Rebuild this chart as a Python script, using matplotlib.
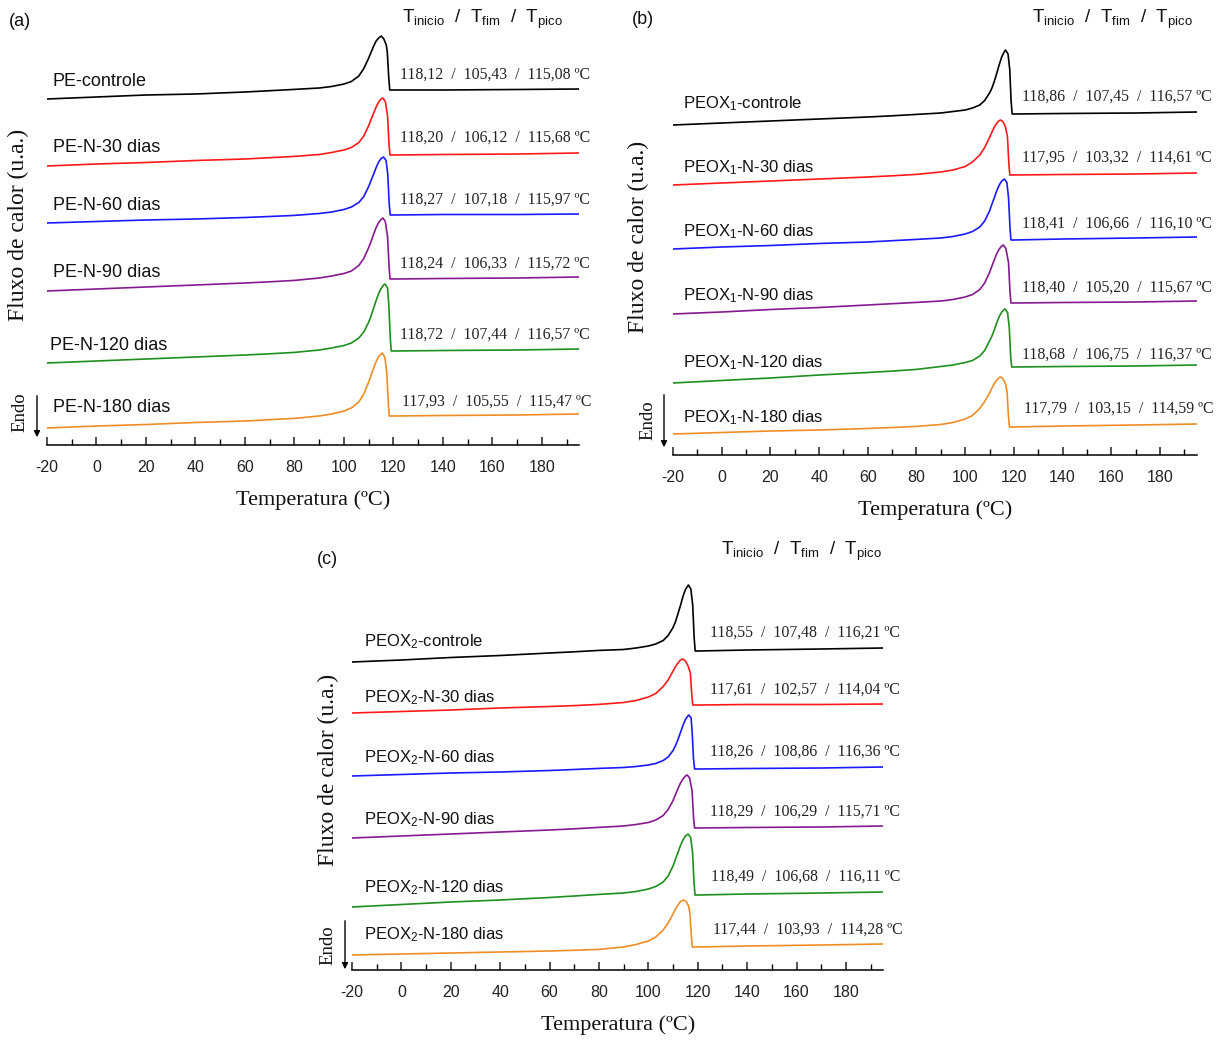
import matplotlib
matplotlib.use("Agg")
import matplotlib.pyplot as plt
from matplotlib.ticker import MultipleLocator

W, H = 1226, 1041
SANS = "Liberation Sans"
SERIF = "Liberation Serif"
plt.rcParams["font.family"] = [SANS, "DejaVu Sans"]
plt.rcParams["mathtext.fontset"] = "custom"
plt.rcParams["mathtext.rm"] = SANS
plt.rcParams["mathtext.it"] = SANS + ":italic"

COLORS = ["#000000", "#ff1a1a", "#1a1aff", "#86198f", "#1f8f1f", "#f08c28"]
DAYS = ["controle", "N-30 dias", "N-60 dias", "N-90 dias", "N-120 dias", "N-180 dias"]

# ---------------- (a) PE ----------------
pe_t_inicio = [118.12, 118.20, 118.27, 118.24, 118.72, 117.93]
pe_t_fim = [105.43, 106.12, 107.18, 106.33, 107.44, 105.55]
pe_t_pico = [115.08, 115.68, 115.97, 115.72, 116.57, 115.47]

T_pe_ctrl = [-20, 0, 20, 40, 60, 70, 80, 90, 95, 100, 103, 106, 108, 110, 111, 112, 113, 114, 115.08, 116.1, 117.1, 117.5, 118.12, 118.5, 120, 140, 170, 195]
Q_pe_ctrl = [346, 348, 350, 351, 353, 354.3, 355.6, 357, 358.5, 361, 363.5, 369, 376.5, 387, 393, 399, 404, 407, 409, 406, 400, 393, 366, 355, 355, 355, 355.5, 356]
T_pe_30 = [-20, 0, 20, 40, 60, 70, 80, 90, 95, 100, 103, 106, 108, 110, 111, 112, 113, 114, 115, 115.68, 116.7, 117.6, 118.2, 118.6, 120, 140, 170, 195]
Q_pe_30 = [279, 281, 282.5, 284.5, 286, 287.3, 288.6, 290.5, 292.5, 295, 297.5, 302.5, 309, 319.5, 326, 332, 338, 343, 346, 347, 343.5, 329.5, 300.5, 290, 290, 290.5, 291, 292]
T_pe_60 = [-20, 0, 20, 40, 60, 70, 80, 90, 95, 100, 103, 106, 108, 110, 111, 112, 113, 114, 115, 115.97, 117, 117.7, 118.27, 118.7, 120, 140, 170, 195]
Q_pe_60 = [222, 223.5, 225, 226, 227.5, 228.5, 229.6, 231.5, 233, 235.5, 238, 242.5, 248.5, 258.5, 265, 271, 277.5, 283, 286.5, 288, 284.5, 270.5, 241, 230, 230, 230.5, 230.5, 231]
T_pe_90 = [-20, 0, 20, 40, 60, 70, 80, 90, 95, 100, 103, 106, 108, 110, 111, 112, 113, 114, 115, 115.72, 116.7, 117.6, 118.24, 118.6, 120, 140, 170, 195]
Q_pe_90 = [154, 156, 158, 160, 162, 163.2, 164.6, 167, 169, 171.5, 174, 179.5, 186.5, 197.5, 204, 211, 217.5, 222.5, 225.5, 227, 223.5, 208.5, 177.5, 166, 166, 166.5, 167, 168]
T_pe_120 = [-20, 0, 20, 40, 60, 70, 80, 90, 95, 100, 103, 106, 108, 110, 111, 112, 113, 114, 115, 116, 116.57, 117.6, 118.1, 118.72, 119.1, 120, 140, 170, 195]
Q_pe_120 = [82, 84, 86, 88, 90, 91.2, 92.6, 95, 97, 99.5, 102, 107, 113, 123, 129.5, 137, 144.5, 151.5, 156.5, 160, 161, 157, 140.5, 106.5, 94, 94, 94.5, 95, 96]
T_pe_180 = [-20, 0, 20, 40, 60, 70, 80, 90, 95, 100, 103, 106, 108, 110, 111, 112, 113, 114, 115, 115.47, 116.5, 117.3, 117.93, 118.3, 120, 140, 170, 195]
Q_pe_180 = [17, 19, 20.5, 22.5, 24, 25.3, 26.6, 29, 31, 34, 37, 43, 51, 63, 70, 77, 83.5, 88.5, 91, 92, 88, 72.5, 40.5, 29, 29, 29.5, 30, 31]

# ---------------- (b) PEOX1 ----------------
ox1_t_inicio = [118.86, 117.95, 118.41, 118.40, 118.68, 117.79]
ox1_t_fim = [107.45, 103.32, 106.66, 105.20, 106.75, 103.15]
ox1_t_pico = [116.57, 114.61, 116.10, 115.67, 116.37, 114.59]

T_ox1_ctrl = [-20, 0, 20, 40, 60, 70, 80, 90, 95, 100, 103, 106, 108, 110, 111, 112, 113, 114, 115, 116, 116.57, 117.6, 118.3, 118.86, 119.3, 120, 140, 170, 195]
Q_ox1_ctrl = [330, 332, 334, 336, 338, 339.2, 340.6, 342, 343.5, 345, 347, 350, 354.5, 362, 367, 374, 382, 390.5, 398, 403, 405, 401, 385.5, 353.5, 341, 341, 341.5, 342, 343]
T_ox1_30 = [-20, 0, 20, 40, 60, 70, 80, 90, 95, 100, 103, 106, 108, 110, 111, 112, 113, 114, 114.61, 115.6, 116.6, 117.35, 117.95, 118.35, 120, 140, 170, 195]
Q_ox1_30 = [270, 272, 274, 276, 278, 279.2, 280.6, 283, 285, 288.5, 293, 300, 307.5, 317.5, 323, 328, 332, 334.5, 335, 333, 327.5, 318.5, 291, 280, 280, 280.5, 281, 282]
T_ox1_60 = [-20, 0, 20, 40, 60, 70, 80, 90, 95, 100, 103, 106, 108, 110, 111, 112, 113, 114, 115, 116.1, 117.1, 117.8, 118.41, 118.8, 120, 140, 170, 195]
Q_ox1_60 = [206, 208, 209.5, 211.5, 213, 214.3, 215.6, 217, 218.5, 221, 223.5, 228, 234, 244, 251, 257.5, 264.5, 270, 274, 276, 272.5, 257.5, 227, 215, 215, 216, 217, 218]
T_ox1_90 = [-20, 0, 20, 40, 60, 70, 80, 90, 95, 100, 103, 106, 108, 110, 111, 112, 113, 114, 115, 115.67, 116.7, 117.8, 118.4, 118.8, 120, 140, 170, 195]
Q_ox1_90 = [141, 143, 145.5, 147.5, 150, 151.3, 152.6, 154, 155.5, 158, 160.5, 165.5, 172, 182.5, 189, 195.5, 201.5, 206, 209, 210, 206.5, 192.5, 163.5, 152, 152, 152.5, 153, 154]
T_ox1_120 = [-20, 0, 20, 40, 60, 70, 80, 90, 95, 100, 103, 106, 108, 110, 111, 112, 113, 114, 115, 116, 116.37, 117.4, 118.1, 118.68, 119.1, 120, 140, 170, 195]
Q_ox1_120 = [72, 74.5, 77, 80, 82.5, 83.9, 85.6, 88.5, 90, 92.5, 94.5, 99, 104.5, 114, 119, 125.5, 132.5, 138.5, 143, 145.5, 146, 142.5, 128, 98.5, 88, 88, 88.5, 89, 90]
T_ox1_180 = [-20, 0, 20, 40, 60, 70, 80, 90, 95, 100, 103, 106, 108, 110, 111, 112, 113, 114, 114.59, 115.6, 116.6, 117.2, 117.79, 118.2, 120, 140, 170, 195]
Q_ox1_180 = [21, 22.5, 24, 25, 26.5, 27.5, 28.6, 30.5, 32.5, 36, 39.5, 46.5, 53.5, 62, 67, 71.5, 75, 77.5, 78, 76, 71, 63, 38, 28, 28, 29, 30, 31]

# ---------------- (c) PEOX2 ----------------
ox2_t_inicio = [118.55, 117.61, 118.26, 118.29, 118.49, 117.44]
ox2_t_fim = [107.48, 102.57, 108.86, 106.29, 106.68, 103.93]
ox2_t_pico = [116.21, 114.04, 116.36, 115.71, 116.11, 114.28]

T_ox2_ctrl = [-20, 0, 20, 40, 60, 70, 80, 90, 95, 100, 103, 106, 108, 110, 111, 112, 113, 114, 115, 116.21, 117.2, 117.95, 118.55, 118.95, 120, 140, 170, 195]
Q_ox2_ctrl = [308, 310, 312.5, 314.5, 317, 318.2, 319.6, 320.5, 322, 324, 326, 329.5, 334.5, 342.5, 348.5, 356.5, 364.5, 373.5, 380.5, 385, 381, 365, 332, 319, 319, 320, 321, 322]
T_ox2_30 = [-20, 0, 20, 40, 60, 70, 80, 90, 95, 100, 103, 106, 108, 110, 111, 112, 113, 114.04, 115, 116, 117, 117.61, 118, 120, 140, 170, 195]
Q_ox2_30 = [257, 258.5, 260, 262, 263.5, 264.4, 265.6, 267.5, 269.5, 273, 276.5, 283.5, 290, 299, 303.5, 307, 310, 311, 309, 304.5, 297, 274, 265, 265, 265.5, 265.5, 266]
T_ox2_60 = [-20, 0, 20, 40, 60, 70, 80, 90, 95, 100, 103, 106, 108, 110, 111, 112, 113, 114, 115, 116, 116.36, 117.3, 117.7, 118.26, 118.7, 120, 140, 170, 195]
Q_ox2_60 = [194, 195.5, 197, 198, 199.5, 200.5, 201.6, 202.5, 203.5, 205, 206.5, 209.5, 213, 219.5, 224.5, 230.5, 237.5, 244.5, 250.5, 254, 255, 252, 239, 212, 201, 201, 201.5, 202, 203]
T_ox2_90 = [-20, 0, 20, 40, 60, 70, 80, 90, 95, 100, 103, 106, 108, 110, 111, 112, 113, 114, 115, 115.71, 116.7, 117.7, 118.29, 118.7, 120, 140, 170, 195]
Q_ox2_90 = [132, 134, 136, 138, 140, 141.2, 142.6, 144, 145.5, 147.5, 150, 154.5, 160.5, 169.5, 175.5, 181.5, 187, 191, 194, 195, 192, 179, 152.5, 142, 142, 142.5, 143, 144]
T_ox2_120 = [-20, 0, 20, 40, 60, 70, 80, 90, 95, 100, 103, 106, 108, 110, 111, 112, 113, 114, 115, 116.11, 117.1, 117.9, 118.49, 118.9, 120, 140, 170, 195]
Q_ox2_120 = [63, 65.5, 68, 70, 72.5, 74, 75.6, 77, 78.5, 81, 83.5, 88, 94, 104, 111, 117.5, 124.5, 130, 134, 136, 132.5, 117.5, 87, 75, 75, 76, 77, 78]
T_ox2_180 = [-20, 0, 20, 40, 60, 70, 80, 90, 95, 100, 103, 106, 108, 110, 111, 112, 113, 114.28, 115.3, 116.3, 116.84, 117.44, 117.84, 120, 140, 170, 195]
Q_ox2_180 = [15, 16, 17, 18, 19, 19.7, 20.6, 23, 25.5, 29, 33, 40, 47, 56, 61, 65, 68.5, 70, 68.5, 64, 56.5, 32.5, 23, 23, 24, 25, 26]

X_TICKS = [-20, 0, 20, 40, 60, 80, 100, 120, 140, 160, 180]


def fx(px):
    return px / W


def fy(py):
    return 1 - py / H


def fmt(v):
    return f"{v:.2f}".replace(".", ",")


fig = plt.figure(figsize=(W / 100, H / 100), dpi=100)
fig.patch.set_facecolor("white")


def draw_panel(box, letter, letter_xy, header_xy, prefix, name_size, temps, flows,
               t_ini, t_fim, t_pic, name_xy, value_xy, ylab_xy, endo_xy,
               arrow, xlab_xy):
    left, right, axis_y, top = box
    ax = fig.add_axes([fx(left), fy(axis_y), fx(right - left), (axis_y - top) / H])
    ax.set_xlim(-20, 195)
    ax.set_ylim(0, axis_y - top)
    for s in ("left", "right", "top"):
        ax.spines[s].set_visible(False)
    ax.spines["bottom"].set_linewidth(1.1)
    ax.yaxis.set_visible(False)
    ax.set_xticks(X_TICKS)
    ax.set_xticklabels([str(t) for t in X_TICKS])
    ax.xaxis.set_minor_locator(MultipleLocator(10))
    ax.tick_params(axis="x", which="major", direction="in", length=6, width=1.1,
                   pad=11, labelsize=11.5, colors="#222222")
    ax.tick_params(axis="x", which="minor", direction="in", length=4, width=1.0)
    ax.patch.set_alpha(0)

    for i, (t, q) in enumerate(zip(temps, flows)):
        ax.plot(t, q, color=COLORS[i], lw=1.2, solid_joinstyle="round")
        fig.text(fx(name_xy[i][0]), fy(name_xy[i][1]), prefix + DAYS[i],
                 ha="left", va="center", fontsize=name_size, color="#111111")
        txt = f"{fmt(t_ini[i])}  /  {fmt(t_fim[i])}  /  {fmt(t_pic[i])} ºC"
        fig.text(fx(value_xy[i][0]), fy(value_xy[i][1]), txt, ha="left", va="center",
                 fontsize=11.4, family=SERIF, color="#222222")

    fig.text(fx(letter_xy[0]), fy(letter_xy[1]), letter, ha="center", va="center",
             fontsize=13, color="#111111")
    fig.text(fx(header_xy[0]), fy(header_xy[1]),
             r"$\mathregular{T_{inicio}}$  /  $\mathregular{T_{fim}}$  /  $\mathregular{T_{pico}}$",
             ha="center", va="center", fontsize=13.5, color="#111111")
    fig.text(fx(ylab_xy[0]), fy(ylab_xy[1]), "Fluxo de calor (u.a.)", rotation=90,
             ha="center", va="center", fontsize=17, family=SERIF, color="#111111")
    fig.text(fx(endo_xy[0]), fy(endo_xy[1]), "Endo", rotation=90,
             ha="center", va="center", fontsize=13.5, family=SERIF, color="#111111")
    fig.text(fx(xlab_xy[0]), fy(xlab_xy[1]), "Temperatura (ºC)",
             ha="center", va="center", fontsize=16, family=SERIF, color="#111111")
    ax_x, y0, y1 = arrow
    fig.add_artist(matplotlib.patches.FancyArrowPatch(
        (fx(ax_x), fy(y0)), (fx(ax_x), fy(y1)), transform=fig.transFigure,
        arrowstyle="-|>", mutation_scale=9, lw=1.0, color="black"))
    return ax


draw_panel(
    (47, 579.1, 445, 20), "(a)", (20, 22), (482, 19), "PE-", 13,
    [T_pe_ctrl, T_pe_30, T_pe_60, T_pe_90, T_pe_120, T_pe_180],
    [Q_pe_ctrl, Q_pe_30, Q_pe_60, Q_pe_90, Q_pe_120, Q_pe_180],
    pe_t_inicio, pe_t_fim, pe_t_pico,
    [(53, 81), (53, 148), (53, 205), (53, 273), (50, 346), (53, 407)],
    [(400, 75), (400, 138), (400, 200), (400, 264), (400, 335), (402, 402)],
    (18, 225), (20, 412), (37, 393, 440), (313, 500))

draw_panel(
    (673, 1196.5, 455, 20), "(b)", (643, 20), (1112, 19), r"PEOX$\mathregular{_1}$-", 12,
    [T_ox1_ctrl, T_ox1_30, T_ox1_60, T_ox1_90, T_ox1_120, T_ox1_180],
    [Q_ox1_ctrl, Q_ox1_30, Q_ox1_60, Q_ox1_90, Q_ox1_120, Q_ox1_180],
    ox1_t_inicio, ox1_t_fim, ox1_t_pico,
    [(683, 104), (683, 168), (683, 232), (683, 296), (683, 363), (683, 418)],
    [(1022, 97), (1022, 158), (1022, 224), (1022, 288), (1022, 355), (1024, 409)],
    (638, 237), (648, 420), (664, 392, 450), (935, 510))

draw_panel(
    (352, 883, 970, 560), "(c)", (327, 560), (801, 551), r"PEOX$\mathregular{_2}$-", 12,
    [T_ox2_ctrl, T_ox2_30, T_ox2_60, T_ox2_90, T_ox2_120, T_ox2_180],
    [Q_ox2_ctrl, Q_ox2_30, Q_ox2_60, Q_ox2_90, Q_ox2_120, Q_ox2_180],
    ox2_t_inicio, ox2_t_fim, ox2_t_pico,
    [(364, 642), (364, 698), (364, 758), (364, 820), (364, 888), (364, 935)],
    [(710, 633), (710, 690), (710, 752), (710, 812), (711, 877), (713, 930)],
    (328, 770), (328, 945), (345, 918, 972), (618, 1025))

fig.savefig("out.png", dpi=100, facecolor="white")
